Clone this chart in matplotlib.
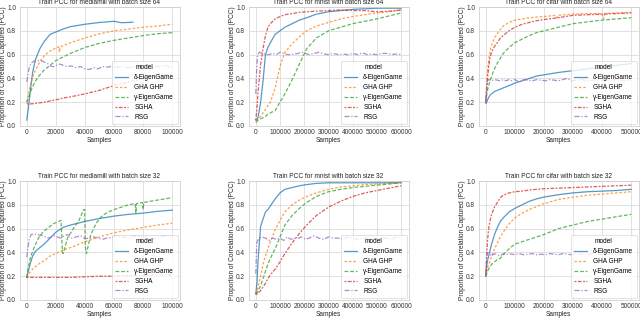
import matplotlib
matplotlib.use("Agg")
import matplotlib.pyplot as plt

plt.rcParams['font.family'] = ['Liberation Sans', 'DejaVu Sans']

models = ["δ-EigenGame", "GHA GHP", "γ-EigenGame", "SGHA", "RSG"]
colors = ["#1f77b4", "#ff7f0e", "#2ca02c", "#d62728", "#9467bd"]
dashes = [(None), (2, 1.5), (3, 1.5), (1.5, 1.2, 3, 1.2), (4, 1.5, 1, 1.5)]

# ---------------- mediamill ----------------
mm_x = [0, 1000, 2000, 4000, 6000, 9000, 12000, 16000, 20000, 25000, 30000, 40000,
        50000, 60000, 70000, 80000, 90000, 100000]
mm_rsg_x = [0, 1500, 3000, 5000, 7000, 9000, 11000, 13000, 15000, 17000, 19000, 21000,
            23000, 25000, 28000, 31000, 34000, 37000, 40000, 43000, 46000, 49000, 52000,
            55000, 58000, 61000, 65000, 70000, 75000, 80000, 85000, 90000, 95000, 100000]

# batch 64
mm64_delta_x = [0, 1000, 2000, 4000, 6000, 9000, 12000, 16000, 20000, 25000, 30000,
                40000, 50000, 60000, 65000, 70000, 73000]
mm64_delta_y = [0.05, 0.14, 0.25, 0.45, 0.56, 0.65, 0.71, 0.77, 0.79, 0.815, 0.835,
                0.855, 0.87, 0.88, 0.868, 0.87, 0.873]
mm64_gha_x = [0, 1000, 2000, 4000, 6000, 9000, 12000, 16000, 20000, 22000, 22500, 23000,
              25000, 30000, 40000, 50000, 60000, 70000, 80000, 90000, 100000]
mm64_gha_y = [0.2, 0.26, 0.32, 0.41, 0.47, 0.54, 0.59, 0.63, 0.655, 0.665, 0.62, 0.665,
              0.675, 0.7, 0.74, 0.775, 0.8, 0.815, 0.83, 0.84, 0.855]
mm64_gamma_y = [0.2, 0.23, 0.27, 0.33, 0.38, 0.43, 0.47, 0.51, 0.55, 0.58, 0.61, 0.66,
                0.695, 0.72, 0.74, 0.76, 0.775, 0.785]
mm64_sgha_y = [0.19, 0.185, 0.185, 0.187, 0.19, 0.195, 0.2, 0.21, 0.22, 0.235, 0.245,
               0.27, 0.3, 0.34, 0.37, 0.4, 0.42, 0.44]
mm64_rsg_y = [0.37, 0.48, 0.53, 0.545, 0.55, 0.55, 0.545, 0.53, 0.52, 0.5, 0.5, 0.515,
              0.52, 0.51, 0.5, 0.505, 0.49, 0.5, 0.48, 0.475, 0.49, 0.48, 0.5, 0.495,
              0.5, 0.49, 0.5, 0.49, 0.5, 0.5, 0.49, 0.5, 0.51, 0.49]

# batch 32
mm32_delta_y = [0.19, 0.24, 0.29, 0.37, 0.41, 0.44, 0.47, 0.52, 0.57, 0.61, 0.63, 0.66,
                0.685, 0.705, 0.72, 0.73, 0.745, 0.755]
mm32_gha_y = [0.19, 0.21, 0.23, 0.26, 0.28, 0.31, 0.33, 0.37, 0.39, 0.42, 0.44, 0.49,
              0.53, 0.565, 0.59, 0.61, 0.63, 0.645]
mm32_gamma_x = [0, 1000, 2500, 5000, 8000, 11000, 15000, 19000, 22000, 23500, 24000,
                24500, 25000, 28000, 32000, 36000, 39000, 39800, 40200, 41000, 44000,
                48000, 52000, 56000, 60000, 65000, 70000, 74500, 75000, 75500, 79500,
                80000, 80500, 85000, 90000, 95000, 100000]
mm32_gamma_y = [0.19, 0.27, 0.36, 0.44, 0.52, 0.57, 0.61, 0.645, 0.66, 0.67, 0.55,
                0.4, 0.39, 0.52, 0.6, 0.67, 0.76, 0.76, 0.45, 0.39, 0.55,
                0.65, 0.71, 0.74, 0.76, 0.78, 0.8, 0.81, 0.73, 0.81, 0.82,
                0.76, 0.82, 0.83, 0.84, 0.85, 0.86]
mm32_sgha_y = [0.19, 0.19, 0.19, 0.19, 0.19, 0.19, 0.19, 0.19, 0.19, 0.19, 0.19, 0.195,
               0.2, 0.2, 0.205, 0.205, 0.21, 0.21]
mm32_rsg_y = [0.36, 0.5, 0.55, 0.555, 0.55, 0.545, 0.54, 0.53, 0.52, 0.53, 0.54, 0.53,
              0.52, 0.535, 0.55, 0.52, 0.53, 0.54, 0.515, 0.52, 0.53, 0.52, 0.51, 0.52,
              0.525, 0.54, 0.53, 0.52, 0.54, 0.53, 0.51, 0.52, 0.54, 0.53]

# ---------------- mnist ----------------
mn_x = [0, 5000, 10000, 20000, 30000, 40000, 50000, 60000, 80000, 100000, 120000,
        150000, 180000, 210000, 250000, 300000, 350000, 400000, 450000, 500000,
        550000, 600000]
mn_rsg_x = [0, 4000, 8000, 15000, 25000, 40000, 55000, 70000, 85000, 100000, 115000,
            130000, 145000, 160000, 175000, 190000, 205000, 220000, 240000, 260000,
            280000, 300000, 320000, 340000, 360000, 380000, 400000, 420000, 440000,
            460000, 480000, 500000, 520000, 540000, 560000, 580000, 600000]

mn64_delta_y = [0.05, 0.05, 0.08, 0.2, 0.38, 0.6, 0.66, 0.7, 0.77, 0.8, 0.83, 0.86,
                0.89, 0.91, 0.94, 0.96, 0.97, 0.98, 0.985, 0.99, 0.99, 0.99]
mn64_gha_y = [0.05, 0.05, 0.06, 0.08, 0.11, 0.14, 0.17, 0.2, 0.32, 0.5, 0.62, 0.69,
              0.75, 0.8, 0.84, 0.87, 0.9, 0.92, 0.935, 0.95, 0.96, 0.975]
mn64_gamma_y = [0.03, 0.04, 0.05, 0.06, 0.07, 0.08, 0.1, 0.11, 0.13, 0.2, 0.27, 0.39,
                0.52, 0.65, 0.74, 0.8, 0.83, 0.86, 0.88, 0.9, 0.925, 0.95]
mn64_sgha_y = [0.05, 0.15, 0.3, 0.52, 0.65, 0.76, 0.83, 0.86, 0.9, 0.92, 0.935, 0.945,
               0.955, 0.96, 0.965, 0.97, 0.975, 0.97, 0.97, 0.96, 0.965, 0.975]
mn64_rsg_y = [0.27, 0.5, 0.6, 0.62, 0.615, 0.6, 0.6, 0.61, 0.6, 0.62, 0.61, 0.6, 0.6,
              0.605, 0.61, 0.62, 0.61, 0.6, 0.61, 0.62, 0.605, 0.6, 0.61, 0.6, 0.605,
              0.6, 0.61, 0.6, 0.615, 0.6, 0.605, 0.6, 0.61, 0.61, 0.6, 0.605, 0.6]

mn32_delta_y = [0.05, 0.15, 0.35, 0.62, 0.68, 0.74, 0.76, 0.79, 0.85, 0.9, 0.93, 0.945,
                0.96, 0.97, 0.98, 0.985, 0.985, 0.985, 0.985, 0.985, 0.985, 0.99]
mn32_gha_y = [0.05, 0.07, 0.12, 0.2, 0.3, 0.37, 0.43, 0.49, 0.59, 0.67, 0.74, 0.8,
              0.84, 0.87, 0.9, 0.93, 0.95, 0.96, 0.97, 0.975, 0.98, 0.98]
mn32_gamma_y = [0.05, 0.06, 0.08, 0.12, 0.18, 0.24, 0.3, 0.35, 0.43, 0.53, 0.63, 0.71,
                0.77, 0.82, 0.87, 0.91, 0.93, 0.945, 0.955, 0.965, 0.975, 0.985]
mn32_sgha_y = [0.05, 0.05, 0.06, 0.08, 0.11, 0.14, 0.18, 0.21, 0.26, 0.32, 0.39, 0.48,
               0.56, 0.63, 0.71, 0.78, 0.83, 0.87, 0.9, 0.92, 0.94, 0.96]
mn32_rsg_y = [0.22, 0.48, 0.5, 0.52, 0.53, 0.52, 0.5, 0.52, 0.51, 0.52, 0.5, 0.53, 0.51,
              0.52, 0.52, 0.53, 0.51, 0.52, 0.54, 0.52, 0.51, 0.53, 0.52, 0.52, 0.51,
              0.53, 0.52, 0.51, 0.52, 0.52, 0.53, 0.51, 0.52, 0.52, 0.51, 0.53, 0.52]

# ---------------- cifar ----------------
cf_x = [0, 3000, 6000, 10000, 15000, 20000, 30000, 40000, 50000, 60000, 80000, 100000,
        125000, 150000, 175000, 200000, 250000, 300000, 350000, 400000, 450000, 500000]
cf_rsg_x = [0, 3000, 6000, 10000, 20000, 30000, 40000, 50000, 60000, 70000, 80000,
            90000, 100000, 115000, 130000, 145000, 160000, 175000, 190000, 205000,
            220000, 235000, 250000, 265000, 280000, 295000, 310000, 330000, 350000,
            370000, 390000, 410000, 430000, 450000, 470000, 490000, 500000]

cf64_delta_y = [0.19, 0.2, 0.22, 0.24, 0.26, 0.27, 0.29, 0.3, 0.31, 0.32, 0.34, 0.36,
                0.38, 0.4, 0.42, 0.43, 0.45, 0.465, 0.48, 0.495, 0.51, 0.525]
cf64_gha_x = [0, 3000, 6000, 10000, 15000, 20000, 30000, 40000, 50000, 60000, 80000,
              100000, 125000, 150000, 175000, 200000, 240000, 245000, 250000, 300000,
              350000, 400000, 405000, 410000, 450000, 500000]
cf64_gha_y = [0.2, 0.35, 0.45, 0.55, 0.63, 0.68, 0.74, 0.78, 0.81, 0.84, 0.87, 0.89,
              0.9, 0.91, 0.915, 0.92, 0.93, 0.91, 0.93, 0.94, 0.945, 0.945, 0.9,
              0.945, 0.95, 0.955]
cf64_gamma_y = [0.2, 0.26, 0.3, 0.34, 0.38, 0.42, 0.48, 0.53, 0.57, 0.61, 0.66, 0.7,
                0.73, 0.76, 0.785, 0.8, 0.83, 0.86, 0.875, 0.89, 0.9, 0.91]
cf64_sgha_y = [0.2, 0.3, 0.4, 0.5, 0.58, 0.62, 0.67, 0.7, 0.74, 0.76, 0.8, 0.83,
               0.855, 0.87, 0.885, 0.895, 0.91, 0.93, 0.935, 0.94, 0.945, 0.95]
cf64_rsg_y = [0.2, 0.33, 0.38, 0.39, 0.38, 0.39, 0.385, 0.38, 0.39, 0.38, 0.39, 0.38,
              0.39, 0.37, 0.39, 0.385, 0.38, 0.39, 0.385, 0.38, 0.39, 0.385, 0.38, 0.39,
              0.4, 0.38, 0.385, 0.39, 0.38, 0.385, 0.39, 0.38, 0.385, 0.39, 0.38,
              0.385, 0.38]

cf32_delta_y = [0.2, 0.28, 0.33, 0.37, 0.42, 0.47, 0.55, 0.61, 0.66, 0.69, 0.74, 0.77,
                0.8, 0.83, 0.85, 0.865, 0.885, 0.9, 0.91, 0.915, 0.92, 0.93]
cf32_gha_y = [0.2, 0.24, 0.27, 0.3, 0.33, 0.37, 0.43, 0.48, 0.53, 0.57, 0.64, 0.69,
              0.73, 0.76, 0.785, 0.81, 0.845, 0.865, 0.88, 0.89, 0.9, 0.91]
cf32_gamma_y = [0.2, 0.22, 0.24, 0.26, 0.28, 0.3, 0.32, 0.34, 0.35, 0.38, 0.43, 0.47,
                0.49, 0.51, 0.53, 0.55, 0.6, 0.63, 0.66, 0.68, 0.7, 0.72]
cf32_sgha_y = [0.2, 0.38, 0.5, 0.6, 0.67, 0.72, 0.78, 0.82, 0.86, 0.88, 0.9, 0.91,
               0.915, 0.925, 0.93, 0.935, 0.94, 0.945, 0.95, 0.955, 0.96, 0.965]
cf32_rsg_y = [0.2, 0.35, 0.4, 0.39, 0.37, 0.39, 0.38, 0.37, 0.39, 0.38, 0.39, 0.385,
              0.38, 0.39, 0.38, 0.385, 0.39, 0.38, 0.385, 0.38, 0.39, 0.385, 0.38,
              0.39, 0.385, 0.38, 0.39, 0.385, 0.38, 0.39, 0.385, 0.38, 0.39, 0.385,
              0.38, 0.39, 0.385]

panels = [
    ("Train PCC for mediamill with batch size 64",
     [(mm64_delta_x, mm64_delta_y), (mm64_gha_x, mm64_gha_y), (mm_x, mm64_gamma_y),
      (mm_x, mm64_sgha_y), (mm_rsg_x, mm64_rsg_y)]),
    ("Train PCC for mnist with batch size 64",
     [(mn_x, mn64_delta_y), (mn_x, mn64_gha_y), (mn_x, mn64_gamma_y),
      (mn_x, mn64_sgha_y), (mn_rsg_x, mn64_rsg_y)]),
    ("Train PCC for cifar with batch size 64",
     [(cf_x, cf64_delta_y), (cf64_gha_x, cf64_gha_y), (cf_x, cf64_gamma_y),
      (cf_x, cf64_sgha_y), (cf_rsg_x, cf64_rsg_y)]),
    ("Train PCC for mediamill with batch size 32",
     [(mm_x, mm32_delta_y), (mm_x, mm32_gha_y), (mm32_gamma_x, mm32_gamma_y),
      (mm_x, mm32_sgha_y), (mm_rsg_x, mm32_rsg_y)]),
    ("Train PCC for mnist with batch size 32",
     [(mn_x, mn32_delta_y), (mn_x, mn32_gha_y), (mn_x, mn32_gamma_y),
      (mn_x, mn32_sgha_y), (mn_rsg_x, mn32_rsg_y)]),
    ("Train PCC for cifar with batch size 32",
     [(cf_x, cf32_delta_y), (cf_x, cf32_gha_y), (cf_x, cf32_gamma_y),
      (cf_x, cf32_sgha_y), (cf_rsg_x, cf32_rsg_y)]),
]

W, H = 640, 318
fig = plt.figure(figsize=(W / 100, H / 100), dpi=100)
lefts = [19.5, 248.5, 478.5]
axw = 160
tops = [7, 181]
axh = 119
fs = 4.7

for i, (title, series) in enumerate(panels):
    r, c = divmod(i, 3)
    ax = fig.add_axes([lefts[c] / W, (H - tops[r] - axh) / H, axw / W, axh / H])
    for k, (xs, ys) in enumerate(series):
        ln, = ax.plot(xs, ys, color=colors[k], lw=0.9, alpha=0.75, label=models[k])
        if dashes[k] is not None:
            ln.set_dashes(dashes[k])
    ax.set_ylim(0, 1)
    ax.set_yticks([0.0, 0.2, 0.4, 0.6, 0.8, 1.0])
    ax.set_yticklabels(["0.0", "0.2", "0.4", "0.6", "0.8", "1.0"])
    ax.grid(True, color="#dcdcdc", lw=0.6)
    ax.set_axisbelow(True)
    for s in ax.spines.values():
        s.set_color("#d0d0d0")
        s.set_linewidth(0.6)
    ax.tick_params(length=0, labelsize=fs, pad=2.5, colors="#333333")
    ax.set_title(title, fontsize=fs, pad=2, color="#222222")
    ax.set_xlabel("Samples", fontsize=fs, labelpad=0.5, color="#222222")
    ax.set_ylabel("Proportion of Correlation Captured (PCC)", fontsize=fs,
                  color="#222222")
    ax.yaxis.set_label_coords(-12.5 / axw, 0.5)
    leg = ax.legend(title="model", loc="lower right", fontsize=fs,
                    title_fontsize=fs, frameon=True, handlelength=2.0,
                    handletextpad=0.9, borderpad=0.5, labelspacing=0.45,
                    borderaxespad=0.3, fancybox=True)
    leg.get_frame().set_linewidth(0.5)
    leg.get_frame().set_edgecolor("#cccccc")

fig.savefig("out.png", dpi=100)
